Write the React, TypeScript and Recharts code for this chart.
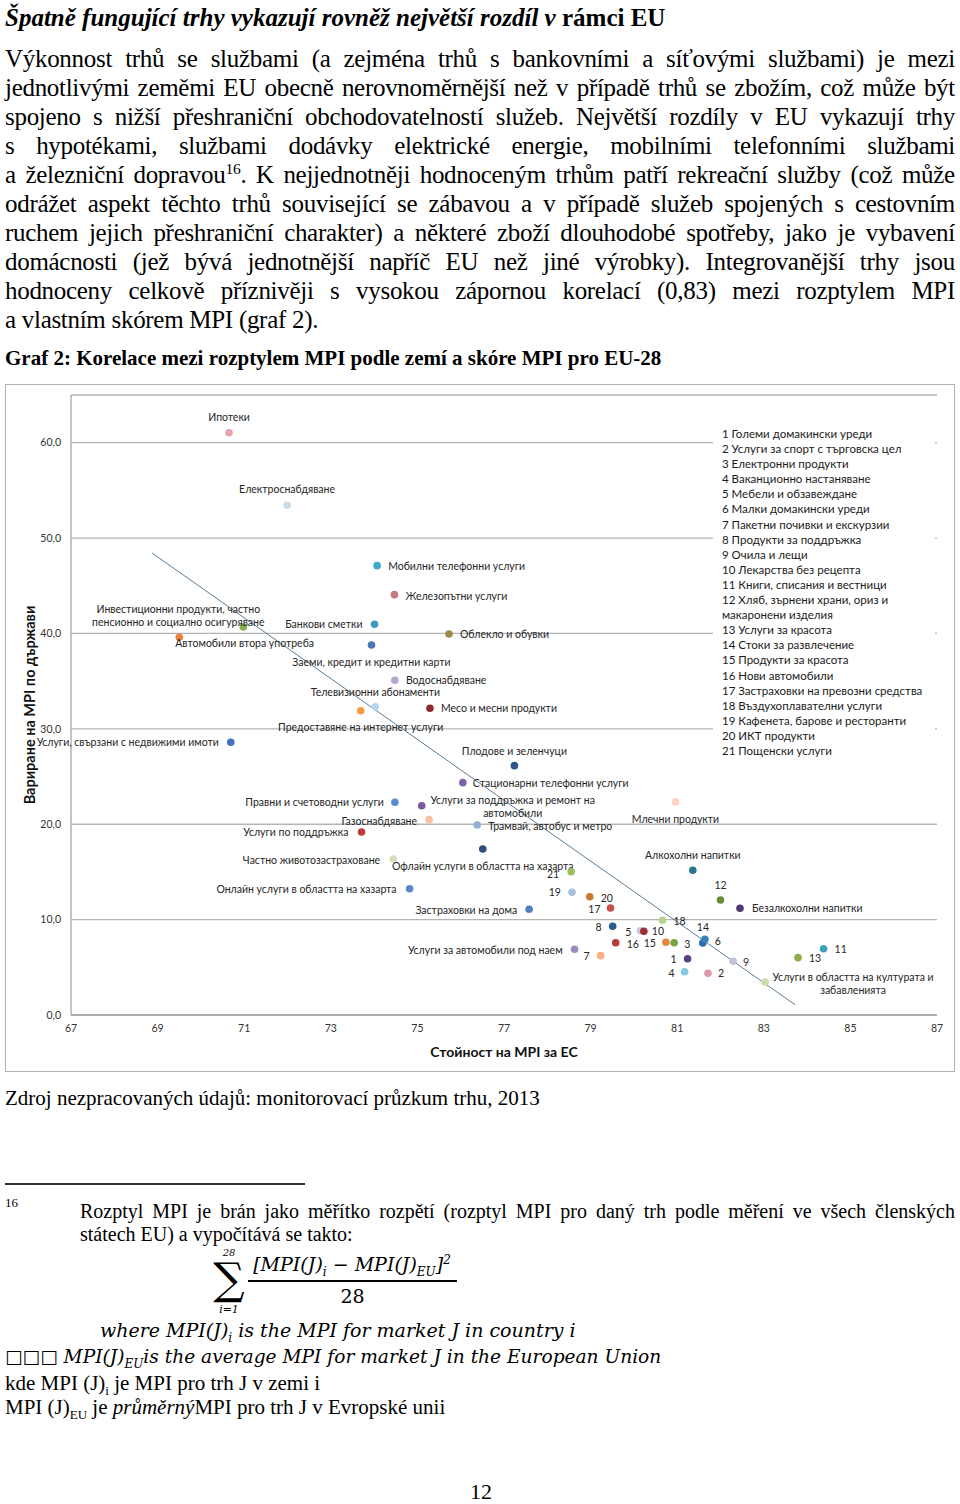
import React from 'react';
import { ScatterChart, Scatter, XAxis, YAxis, CartesianGrid, ReferenceLine } from 'recharts';

// market names as printed next to the dots (numbered ones are explained in the side list)
const MARKET_LABELS = [
  'Ипотеки', 'Електроснабдяване', 'Мобилни телефонни услуги', 'Железопътни услуги',
  'Инвестиционни продукти, частно\nпенсионно и социално осигуряване', 'Автомобили втора употреба',
  'Банкови сметки', 'Облекло и обувки', 'Заеми, кредит и кредитни карти', 'Водоснабдяване',
  'Телевизионни абонаменти', 'Предоставяне на интернет услуги', 'Месо и месни продукти',
  'Услуги, свързани с недвижими имоти', 'Правни и счетоводни услуги',
  'Услуги за поддръжка и ремонт на\nавтомобили', 'Газоснабдяване', 'Услуги по поддръжка',
  'Частно животозастраховане', 'Онлайн услуги в областта на хазарта', 'Стационарни телефонни услуги',
  'Плодове и зеленчуци', 'Трамвай, автобус и метро', 'Офлайн услуги в областта на хазарта',
  'Млечни продукти', 'Алкохолни напитки', 'Застраховки на дома', 'Безалкохолни напитки',
  'Услуги за автомобили под наем', 'Услуги в областта на културата и\nзабавленията',
  '1', '2', '3', '4', '5', '6', '7', '8', '9', '10', '11', '12', '13', '14', '15', '16', '17', '18', '19', '20', '21',
];

// x: MPI value for the EU
const MPI_EU = [
  70.65, 71.99, 74.07, 74.47, 70.98, 69.5, 74.01, 75.73, 73.94, 74.48,
  74.03, 73.69, 75.29, 70.69, 74.48, 75.1, 75.27, 73.71, 74.44, 74.82,
  76.05, 77.24, 76.38, 76.51, 80.96, 81.36, 77.58, 82.45, 78.63, 83.03,
  81.24, 81.71, 80.93, 81.17, 80.15, 81.59, 79.23, 79.51, 82.29, 80.23,
  84.38, 82.0, 83.79, 81.64, 80.74, 79.58, 79.46, 80.66, 78.57, 78.98, 78.55,
];

// y: variation of MPI across countries
const MPI_SPREAD = [
  61.05, 53.44, 47.11, 44.07, 40.68, 39.6, 40.96, 39.95, 38.79, 35.09,
  32.32, 31.9, 32.16, 28.59, 22.3, 21.94, 20.48, 19.19, 16.36, 13.24,
  24.36, 26.14, 19.92, 17.4, 22.33, 15.17, 11.08, 11.19, 6.89, 3.46,
  5.9, 4.37, 7.58, 4.54, 8.84, 7.55, 6.22, 9.3, 5.63, 8.78,
  6.95, 12.06, 6.01, 7.94, 7.62, 7.58, 11.22, 9.93, 12.86, 12.4, 15.02,
];

const TREND_X = [68.87, 83.72];
const TREND_Y = [48.44, 1.08];

const X_TICKS = [67, 69, 71, 73, 75, 77, 79, 81, 83, 85, 87];
const Y_TICKS = [0, 10, 20, 30, 40, 50, 60];

const LEGEND_ITEMS = [
  '1 Големи домакински уреди', '2 Услуги за спорт с търговска цел', '3 Електронни продукти',
  '4 Ваканционно настаняване', '5 Мебели и обзавеждане', '6 Малки домакински уреди',
  '7 Пакетни почивки и екскурзии', '8 Продукти за поддръжка', '9 Очила и лещи',
  '10 Лекарства без рецепта', '11 Книги, списания и вестници',
  '12 Хляб, зърнени храни, ориз и\nмакаронени изделия', '13 Услуги за красота',
  '14 Стоки за развлечение', '15 Продукти за красота', '16 Нови автомобили',
  '17 Застраховки на превозни средства', '18 Въздухоплавателни услуги',
  '19 Кафенета, барове и ресторанти', '20 ИКТ продукти', '21 Пощенски услуги',
];

const DOT_COLORS = [
  '#e4a7ae', '#c9dbe7', '#3ea8c6', '#c8787f', '#8bb04c', '#ec823a', '#3b9cc0', '#9c8b4c', '#4d79b6', '#b7a5d0',
  '#b9d5ea', '#f59b3f', '#8c2a30', '#4471bf', '#5a8bcf', '#7b5aa0', '#f9bf9e', '#bb3b40', '#d5dfbc', '#5a87ca',
  '#8064a6', '#2b5888', '#93b1d6', '#2d4e78', '#fcd2c2', '#2c7888', '#4f80c0', '#4b3a6c', '#9d8bc0', '#c9dca9',
  '#5b3f7f', '#d99aa4', '#7aa244', '#86c8dc', '#c5c8e2', '#2f6aa8', '#fbb07e', '#2a5c90', '#c3c0dc', '#9e2f35',
  '#3d9fb8', '#6b8b3b', '#8db04c', '#3580bd', '#e2873b', '#b73a3e', '#c4504c', '#b9d48e', '#a8bedd', '#c67a30', '#9dbd5a',
];

// label offset from the dot centre in px: [dx, dy, anchor]
const LABEL_PLACE: [number, number, string][] = [
  [0, -16, 'middle'], [0, -16, 'middle'], [11, 0, 'start'], [11, 1, 'start'], [-65, -18, 'middle'],
  [-4, 6, 'start'], [-12, 0, 'end'], [11, 0, 'start'], [0, 17, 'middle'], [11, 0, 'start'],
  [0, -15, 'middle'], [0, 16, 'middle'], [11, 0, 'start'], [-12, 0, 'end'], [-11, 0, 'end'],
  [91, -6, 'middle'], [-12, 1, 'end'], [-13, 0, 'end'], [-13, 1, 'end'], [-13, 0, 'end'],
  [10, 0, 'start'], [0, -15, 'middle'], [11, 1, 'start'], [0, 17, 'middle'], [0, 17, 'middle'],
  [0, -15, 'middle'], [-12, 1, 'end'], [12, 0, 'start'], [-12, 1, 'end'], [88, -5, 'middle'],
  [-11, 0, 'end'], [10, 0, 'start'], [10, 1, 'start'], [-10, 1, 'end'], [-9, 1, 'end'],
  [12, -2, 'start'], [-11, 0, 'end'], [-11, 1, 'end'], [10, 1, 'start'], [8, 0, 'start'],
  [11, 0, 'start'], [0, -15, 'middle'], [11, 0, 'start'], [-2, -12, 'middle'], [-10, 1, 'end'],
  [11, 1, 'start'], [-10, 1, 'end'], [11, 1, 'start'], [-11, 0, 'end'], [11, 1, 'start'], [-12, 2, 'end'],
];

const PARAGRAPH = [
  'Výkonnost trhů se službami (a zejména trhů s bankovními a síťovými službami) je mezi',
  'jednotlivými zeměmi EU obecně nerovnoměrnější než v případě trhů se zbožím, což může být',
  'spojeno s nižší přeshraniční obchodovatelností služeb. Největší rozdíly v EU vykazují trhy',
  's hypotékami, službami dodávky elektrické energie, mobilními telefonními službami',
  'a železniční dopravou^16. K nejjednotněji hodnoceným trhům patří rekreační služby (což může',
  'odrážet aspekt těchto trhů související se zábavou a v případě služeb spojených s cestovním',
  'ruchem jejich přeshraniční charakter) a některé zboží dlouhodobé spotřeby, jako je vybavení',
  'domácnosti (jež bývá jednotnější napříč EU než jiné výrobky). Integrovanější trhy jsou',
  'hodnoceny celkově příznivěji s vysokou zápornou korelací (0,83) mezi rozptylem MPI',
  'a vlastním skórem MPI (graf 2).',
];

const data = MARKET_LABELS.map((name, i) => ({
  name,
  x: MPI_EU[i],
  y: MPI_SPREAD[i],
  color: DOT_COLORS[i],
  place: LABEL_PLACE[i],
}));

const SERIF = '"Liberation Serif", "Times New Roman", serif';
const SANS = 'Lato, "Noto Sans", sans-serif';
const MATH = '"DejaVu Serif", serif';

const subStyle = (size: number) => ({ fontSize: size, lineHeight: 0 });

const MarketDot = (props: any) => {
  const { cx, cy, payload } = props;
  const [dx, dy, anchor] = payload.place;
  const lines = String(payload.name).split('\n');
  return (
    <g>
      <circle cx={cx} cy={cy} r={3.8} fill={payload.color} />
      {lines.map((line: string, i: number) => (
        <text
          key={i}
          x={cx + dx}
          y={cy + dy + i * 13.5}
          textAnchor={anchor}
          dominantBaseline="central"
          fontSize={10.5}
          fontFamily={SANS}
          fill="#262626"
        >
          {line}
        </text>
      ))}
    </g>
  );
};

const Word = ({ w }: { w: string }) => {
  if (w.includes('^')) {
    const [a, rest] = w.split('^');
    const num = rest.replace(/\D+$/, '');
    const tail = rest.slice(num.length);
    return (
      <span>
        {a}
        <sup style={{ fontSize: '0.62em', lineHeight: 0 }}>{num}</sup>
        {tail}
      </span>
    );
  }
  return <span>{w}</span>;
};

const JustLine = ({ text, top, last }: { text: string; top: number; last?: boolean }) => (
  <div
    style={{
      position: 'absolute',
      left: 5,
      top,
      width: 950,
      height: 29,
      lineHeight: '29px',
      display: 'flex',
      justifyContent: last ? 'flex-start' : 'space-between',
      gap: last ? 6 : 0,
      whiteSpace: 'nowrap',
    }}
  >
    {text.split(' ').map((w, i) => (
      <Word key={i} w={w} />
    ))}
  </div>
);

export default function App() {
  return (
    <div
      style={{
        position: 'absolute',
        left: 0,
        top: 0,
        width: 960,
        height: 1504,
        background: '#fff',
        fontFamily: SERIF,
        color: '#000',
        overflow: 'hidden',
      }}
    >
      <div style={{ position: 'absolute', left: 5, top: 3, fontSize: 25, fontWeight: 700, lineHeight: '29px' }}>
        <i>Špatně fungující trhy vykazují rovněž největší rozdíl v</i> rámci EU
      </div>

      <div style={{ fontSize: 25, letterSpacing: -0.3 }}>
        {PARAGRAPH.map((line, i) => (
          <JustLine key={i} text={line} top={44 + i * 29} last={i === PARAGRAPH.length - 1} />
        ))}
      </div>

      <div style={{ position: 'absolute', left: 5, top: 344, fontSize: 21, fontWeight: 700, lineHeight: '29px' }}>
        Graf 2: Korelace mezi rozptylem MPI podle zemí a skóre MPI pro EU-28
      </div>

      {/* chart frame */}
      <div
        style={{
          position: 'absolute',
          left: 5,
          top: 384,
          width: 950,
          height: 688,
          boxSizing: 'border-box',
          border: '1.5px solid #b3b3b3',
        }}
      />
      <div style={{ position: 'absolute', left: 5, top: 384 }}>
        <ScatterChart width={950} height={688} margin={{ top: 11, right: 18, bottom: 0, left: 0 }}>
          <CartesianGrid vertical={false} stroke="#b5b5b5" strokeWidth={1.3} />
          <XAxis
            type="number"
            dataKey="x"
            domain={[67, 87]}
            ticks={X_TICKS}
            height={57}
            tickLine={false}
            tickMargin={4}
            axisLine={{ stroke: '#a6a6a6', strokeWidth: 1.3 }}
            tick={{ fontSize: 10.5, fill: '#333', fontFamily: SANS }}
            label={{
              value: 'Стойност на MPI за ЕС',
              position: 'insideBottom',
              offset: 15,
              style: { fontSize: 14, fontWeight: 700, fill: '#111', fontFamily: SANS },
            }}
          />
          <YAxis
            type="number"
            dataKey="y"
            domain={[0, 65]}
            ticks={Y_TICKS}
            width={66}
            tickLine={false}
            tickMargin={4}
            axisLine={{ stroke: '#a6a6a6', strokeWidth: 1.3 }}
            tickFormatter={(v: number) => v.toFixed(1).replace('.', ',')}
            tick={{ fontSize: 10.5, fill: '#333', fontFamily: SANS }}
            label={{
              value: 'Вариране на MPI по държави',
              angle: -90,
              position: 'insideLeft',
              offset: 25,
              style: { fontSize: 14.5, fontWeight: 700, fill: '#111', fontFamily: SANS, textAnchor: 'middle' },
            }}
          />
          <Scatter data={data} shape={MarketDot} isAnimationActive={false} />
          <ReferenceLine
            segment={[
              { x: TREND_X[0], y: TREND_Y[0] },
              { x: TREND_X[1], y: TREND_Y[1] },
            ]}
            stroke="#587c99"
            strokeWidth={1}
            ifOverflow="visible"
          />
        </ScatterChart>
      </div>

      {/* numbered list, sits over the grid lines */}
      <div
        style={{
          position: 'absolute',
          left: 713,
          top: 426,
          width: 222,
          paddingLeft: 9,
          boxSizing: 'border-box',
          background: '#fff',
          fontFamily: SANS,
          fontSize: 11.5,
          lineHeight: '15.1px',
          color: '#1a1a1a',
          whiteSpace: 'pre',
        }}
      >
        {LEGEND_ITEMS.map((t, i) => (
          <div key={i}>{t}</div>
        ))}
      </div>

      <div style={{ position: 'absolute', left: 5, top: 1084, fontSize: 21, lineHeight: '29px' }}>
        Zdroj nezpracovaných údajů: monitorovací průzkum trhu, 2013
      </div>

      <div style={{ position: 'absolute', left: 5, top: 1183, width: 300, height: 2, background: '#333' }} />
      <div style={{ position: 'absolute', left: 5, top: 1195, fontSize: 13, lineHeight: '16px' }}>16</div>
      <div
        style={{
          position: 'absolute',
          left: 80,
          top: 1199,
          width: 875,
          fontSize: 20,
          lineHeight: '24px',
          textAlign: 'justify',
          textAlignLast: 'justify',
          whiteSpace: 'nowrap',
        }}
      >
        Rozptyl MPI je brán jako měřítko rozpětí (rozptyl MPI pro daný trh podle měření ve všech členských
      </div>
      <div style={{ position: 'absolute', left: 80, top: 1223, fontSize: 20, lineHeight: '22px' }}>
        státech EU) a vypočítává se takto:
      </div>

      {/* formula */}
      <div style={{ position: 'absolute', left: 213, top: 1247, fontSize: 10, lineHeight: '11px', fontFamily: MATH, fontStyle: 'italic', width: 32, textAlign: 'center' }}>28</div>
      <div style={{ position: 'absolute', left: 211, top: 1256, fontSize: 44, lineHeight: '46px', width: 36, textAlign: 'center', fontFamily: MATH }}>∑</div>
      <div style={{ position: 'absolute', left: 211, top: 1303, fontSize: 11, lineHeight: '13px', fontFamily: MATH, fontStyle: 'italic', width: 36, textAlign: 'center' }}>i=1</div>
      <div
        style={{
          position: 'absolute',
          left: 246,
          top: 1251,
          width: 212,
          textAlign: 'center',
          fontFamily: MATH,
          fontStyle: 'italic',
          fontSize: 19,
          lineHeight: '26px',
          whiteSpace: 'nowrap',
        }}
      >
        [MPI(J)<sub style={subStyle(12)}>i</sub> − MPI(J)<sub style={subStyle(12)}>EU</sub>]
        <sup style={subStyle(12)}>2</sup>
      </div>
      <div style={{ position: 'absolute', left: 248, top: 1280, width: 209, height: 1.5, background: '#000' }} />
      <div
        style={{
          position: 'absolute',
          left: 248,
          top: 1284,
          width: 209,
          textAlign: 'center',
          fontFamily: MATH,
          fontSize: 19,
          lineHeight: '24px',
        }}
      >
        28
      </div>
      <div
        style={{
          position: 'absolute',
          left: 100,
          top: 1317,
          fontFamily: MATH,
          fontStyle: 'italic',
          fontSize: 19,
          lineHeight: '26px',
          whiteSpace: 'nowrap',
        }}
      >
        where MPI(J)<sub style={subStyle(12)}>i</sub> is the MPI for market J in country i
      </div>
      <div
        style={{
          position: 'absolute',
          left: 5,
          top: 1344,
          fontFamily: MATH,
          fontStyle: 'italic',
          fontSize: 18.6,
          lineHeight: '26px',
          whiteSpace: 'nowrap',
        }}
      >
        □□□ MPI(J)<sub style={subStyle(12)}>EU</sub>is the average MPI for market J in the European Union
      </div>
      <div style={{ position: 'absolute', left: 5, top: 1371, fontSize: 21, lineHeight: '24px' }}>
        kde MPI (J)<sub style={subStyle(13)}>i</sub> je MPI pro trh J v zemi i
      </div>
      <div style={{ position: 'absolute', left: 5, top: 1395, fontSize: 21, lineHeight: '24px' }}>
        MPI (J)<sub style={subStyle(13)}>EU</sub> je <i>průměrný</i>MPI pro trh J v Evropské unii
      </div>

      <div style={{ position: 'absolute', left: 460, top: 1478, width: 42, textAlign: 'center', fontSize: 22, lineHeight: '28px' }}>
        12
      </div>
    </div>
  );
}
